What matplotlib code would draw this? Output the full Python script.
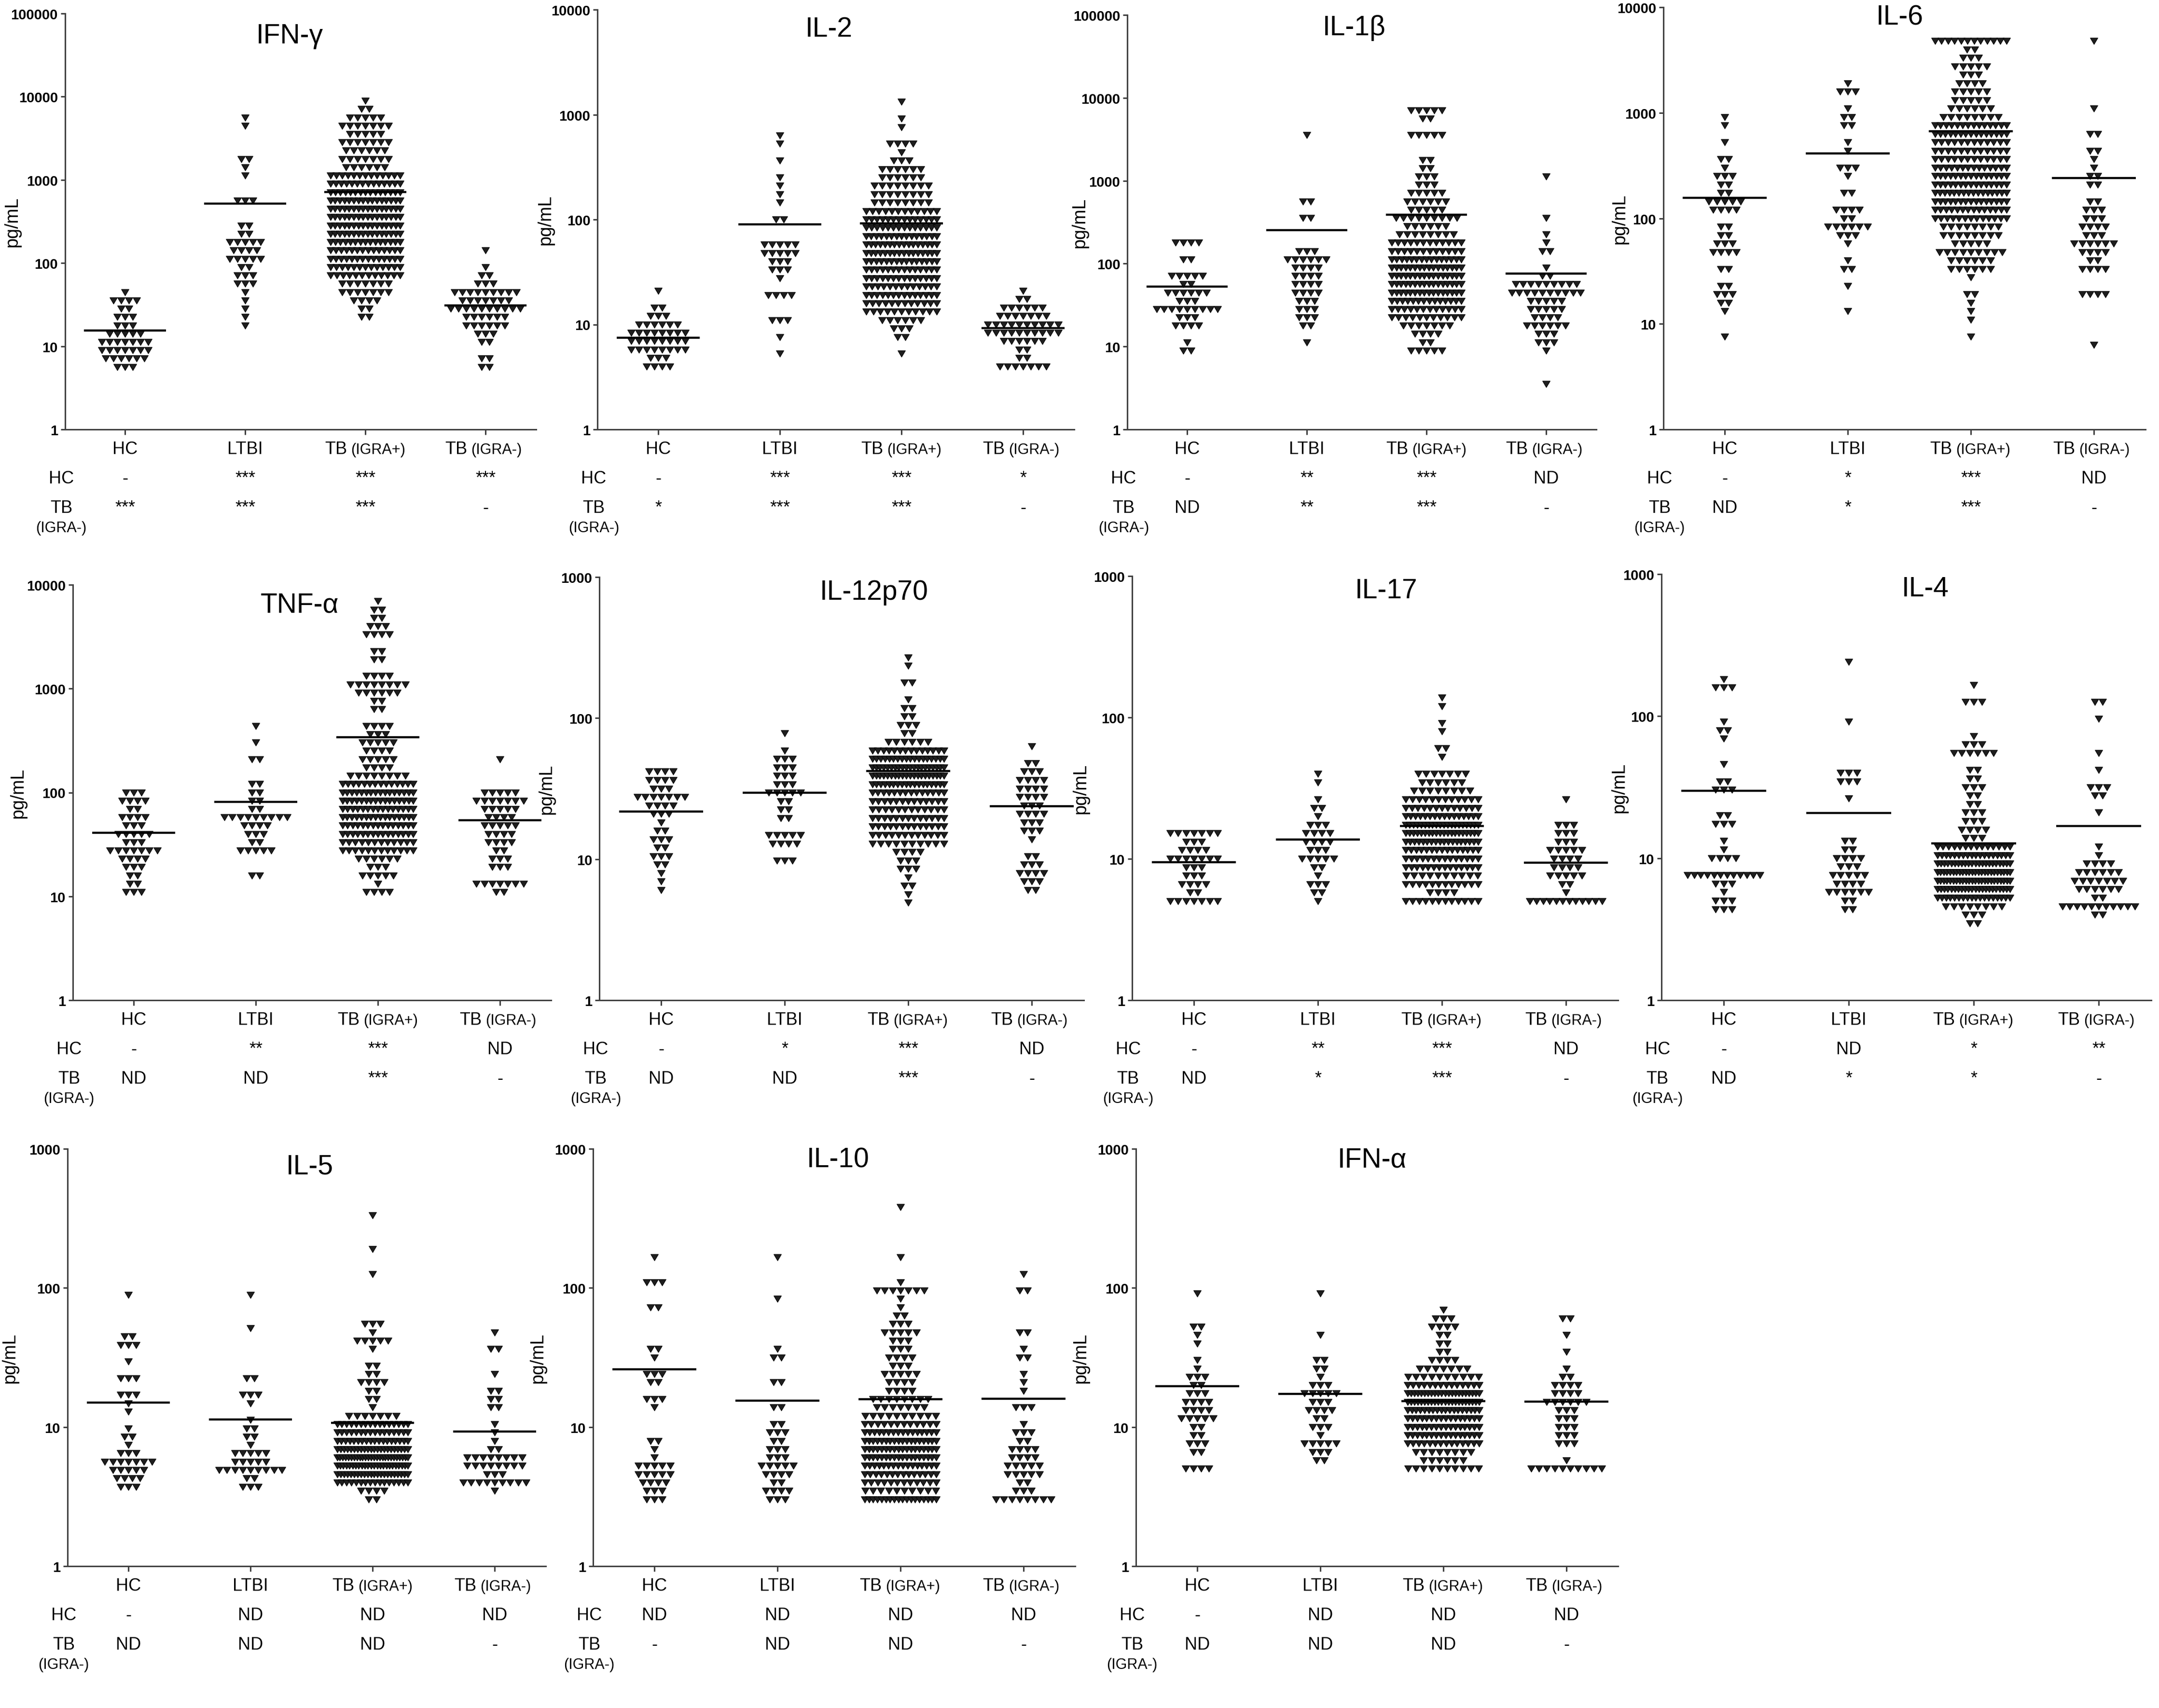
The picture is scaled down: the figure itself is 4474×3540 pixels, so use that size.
import numpy as np
import matplotlib
matplotlib.use("Agg")
import matplotlib.pyplot as plt
from matplotlib.path import Path

plt.rcParams['font.family'] = ['Liberation Sans', 'DejaVu Sans']

# groups on every panel
group_main = ["HC", "LTBI", "TB", "TB"]
group_sub = ["", "", "(IGRA+)", "(IGRA-)"]

# Values are read off the picture as rows of a column scatter:
# start = log10 of the lowest row of each group, step = log10 distance
# between rows, counts = number of subjects in each row (bottom -> top).
# line = value of the horizontal bar, vs_hc / vs_tbneg = comparison rows.

ifng_top, ifng_step = 100000, 0.1
ifng_start = [0.75, 1.25, 1.35, 0.75]
ifng_counts = [
    [3, 6, 7, 7, 5, 3, 3, 2, 4, 1],
    [1, 1, 1, 1, 1, 3, 3, 2, 5, 4, 5, 2, 2, 0, 0, 3, 0, 0, 1, 1, 2, 0, 0, 0, 1, 1],
    [2, 2, 4, 7, 7, 12, 13, 14, 14, 15, 16, 16, 16, 16, 16, 15, 14, 13, 6, 7, 6, 7, 5, 7, 5, 2, 1],
    [2, 2, 0, 2, 3, 6, 6, 10, 7, 9, 3, 2, 1, 0, 1],
]
ifng_line = [15.5, 520, 710, 31]
ifng_vs_hc = ["-", "***", "***", "***"]
ifng_vs_tbneg = ["***", "***", "***", "-"]

il2_top, il2_step = 10000, 0.08
il2_start = [0.60, 0.72, 0.72, 0.60]
il2_counts = [
    [4, 3, 8, 8, 8, 6, 3, 2, 0, 1],
    [1, 0, 1, 0, 3, 0, 0, 4, 0, 1, 3, 3, 5, 5, 0, 0, 2, 0, 1, 1, 1, 1, 0, 1, 0, 1, 1],
    [1, 0, 2, 3, 6, 11, 12, 14, 13, 14, 14, 15, 16, 16, 15, 14, 14, 12, 8, 8, 8, 6, 6, 3, 1, 4, 0, 1, 1, 0, 1],
    [7, 2, 2, 6, 10, 10, 7, 6, 2, 1],
]
il2_line = [7.5, 90, 92, 9.2]
il2_vs_hc = ["-", "***", "***", "*"]
il2_vs_tbneg = ["*", "***", "***", "-"]

il1b_top, il1b_step = 100000, 0.1
il1b_start = [0.95, 1.05, 0.95, 0.55]
il1b_counts = [
    [2, 1, 0, 4, 3, 9, 3, 6, 2, 5, 0, 2, 0, 4],
    [1, 0, 2, 3, 3, 3, 4, 4, 4, 4, 6, 3, 0, 0, 0, 2, 0, 2, 0, 0, 0, 0, 0, 0, 0, 1],
    [5, 2, 4, 7, 11, 12, 14, 16, 16, 16, 16, 15, 12, 12, 8, 6, 9, 5, 6, 5, 3, 3, 2, 2, 0, 0, 5, 0, 2, 5],
    [1, 0, 0, 0, 1, 3, 3, 6, 4, 5, 5, 10, 9, 2, 1, 0, 2, 1, 1, 0, 1, 0, 0, 0, 0, 1],
]
il1b_line = [53, 255, 390, 76]
il1b_vs_hc = ["-", "**", "***", "ND"]
il1b_vs_tbneg = ["ND", "**", "***", "-"]

il6_top, il6_step = 10000, 0.08
il6_start = [0.88, 1.12, 0.88, 0.80]
il6_counts = [
    [1, 0, 0, 1, 2, 3, 2, 0, 2, 0, 4, 3, 2, 2, 0, 4, 5, 2, 2, 3, 1, 2, 0, 1, 0, 1, 1],
    [1, 0, 0, 1, 0, 2, 1, 0, 1, 3, 6, 2, 4, 0, 2, 0, 1, 3, 0, 1, 1, 0, 2, 2, 1, 0, 3, 1],
    [1, 0, 1, 1, 1, 2, 0, 1, 6, 6, 9, 5, 8, 8, 13, 14, 15, 16, 15, 15, 14, 12, 12, 12, 15, 14, 8, 6, 5, 5, 4, 3, 5, 3, 2, 12],
    [1, 0, 0, 0, 0, 0, 4, 0, 0, 4, 2, 4, 6, 3, 4, 3, 3, 2, 0, 2, 2, 1, 1, 2, 0, 2, 0, 0, 1, 0, 0, 0, 0, 0, 0, 0, 1],
]
il6_line = [157, 410, 670, 242]
il6_vs_hc = ["-", "*", "***", "ND"]
il6_vs_tbneg = ["ND", "*", "***", "-"]

tnfa_top, tnfa_step = 10000, 0.08
tnfa_start = [1.04, 1.20, 1.04, 1.04]
tnfa_counts = [
    [3, 2, 2, 3, 4, 7, 3, 5, 3, 4, 2, 4, 3],
    [2, 0, 0, 5, 2, 3, 4, 9, 2, 2, 2, 2, 0, 0, 2, 0, 1, 0, 1],
    [4, 1, 5, 3, 6, 12, 12, 15, 15, 16, 15, 16, 16, 14, 8, 4, 5, 4, 5, 3, 4, 0, 2, 2, 6, 8, 4, 0, 2, 2, 0, 4, 3, 2, 2, 1],
    [2, 7, 0, 3, 3, 2, 4, 4, 5, 4, 5, 7, 5, 0, 0, 0, 1],
]
tnfa_line = [41, 81, 340, 54]
tnfa_vs_hc = ["-", "**", "***", "ND"]
tnfa_vs_tbneg = ["ND", "ND", "***", "-"]

il12_top, il12_step = 1000, 0.06
il12_start = [0.78, 0.99, 0.69, 0.78]
il12_counts = [
    [1, 1, 1, 2, 3, 2, 3, 2, 1, 3, 4, 7, 3, 4, 4],
    [3, 0, 4, 5, 0, 2, 2, 2, 5, 3, 3, 3, 3, 1, 0, 1],
    [1, 1, 2, 1, 3, 3, 4, 10, 12, 13, 13, 12, 13, 14, 18, 20, 20, 18, 14, 6, 2, 3, 2, 2, 1, 0, 2, 0, 1, 1],
    [2, 3, 4, 3, 2, 0, 1, 3, 3, 4, 3, 4, 4, 4, 3, 2, 0, 1],
]
il12_line = [21.7, 29.5, 42, 23.8]
il12_vs_hc = ["-", "*", "***", "ND"]
il12_vs_tbneg = ["ND", "ND", "***", "-"]

il17_top, il17_step = 1000, 0.06
il17_start = [0.70, 0.70, 0.70, 0.70]
il17_counts = [
    [7, 2, 4, 3, 3, 7, 4, 3, 7],
    [1, 2, 3, 1, 2, 5, 3, 4, 4, 3, 1, 2, 1, 0, 1, 1],
    [12, 4, 12, 10, 14, 14, 15, 18, 20, 20, 16, 13, 12, 8, 6, 7, 0, 1, 2, 0, 1, 1, 0, 1, 1],
    [12, 1, 2, 5, 4, 4, 5, 3, 3, 3, 0, 0, 1],
]
il17_line = [9.5, 13.7, 17, 9.4]
il17_vs_hc = ["-", "**", "***", "ND"]
il17_vs_tbneg = ["ND", "*", "***", "-"]

il4_top, il4_step = 1000, 0.06
il4_start = [0.64, 0.64, 0.54, 0.60]
il4_counts = [
    [3, 3, 1, 3, 12, 0, 4, 1, 1, 0, 3, 2, 0, 0, 3, 2, 0, 1, 0, 0, 1, 2, 1, 0, 0, 0, 3, 1],
    [2, 2, 6, 4, 5, 3, 4, 2, 2, 0, 0, 0, 0, 1, 0, 3, 3, 0, 0, 0, 0, 0, 1, 0, 0, 0, 0, 0, 0, 1],
    [2, 3, 8, 18, 22, 24, 24, 22, 18, 14, 3, 4, 3, 3, 2, 2, 3, 2, 2, 0, 6, 3, 1, 0, 0, 0, 3, 0, 1],
    [2, 11, 2, 6, 7, 6, 4, 1, 1, 0, 0, 0, 1, 0, 2, 3, 0, 1, 0, 1, 0, 0, 0, 1, 0, 2],
]
il4_line = [29.9, 20.8, 12.7, 16.9]
il4_vs_hc = ["-", "ND", "*", "**"]
il4_vs_tbneg = ["ND", "*", "*", "-"]

il5_top, il5_step = 1000, 0.06
il5_start = [0.57, 0.57, 0.48, 0.54]
il5_counts = [
    [3, 4, 5, 7, 3, 1, 2, 1, 0, 1, 1, 3, 0, 3, 0, 1, 0, 3, 2, 0, 0, 0, 0, 1],
    [3, 2, 9, 5, 5, 1, 2, 2, 1, 0, 1, 3, 0, 2, 0, 0, 0, 0, 0, 1, 0, 0, 0, 1],
    [2, 4, 16, 22, 24, 26, 22, 18, 16, 16, 7, 1, 2, 2, 4, 2, 2, 0, 1, 5, 1, 3, 0, 0, 0, 0, 0, 1, 0, 0, 1, 0, 0, 0, 1],
    [1, 9, 3, 8, 8, 2, 1, 1, 1, 0, 2, 2, 2, 0, 1, 0, 0, 2, 0, 1],
]
il5_line = [15, 11.3, 10.7, 9.3]
il5_vs_hc = ["-", "ND", "ND", "ND"]
il5_vs_tbneg = ["ND", "ND", "ND", "-"]

il10_top, il10_step = 1000, 0.06
il10_start = [0.48, 0.48, 0.48, 0.48]
il10_counts = [
    [3, 3, 4, 5, 5, 1, 1, 2, 0, 0, 0, 1, 3, 0, 2, 3, 0, 1, 2, 0, 0, 0, 0, 2, 0, 0, 3, 0, 0, 1],
    [3, 4, 2, 4, 5, 3, 3, 2, 3, 2, 0, 2, 0, 0, 2, 0, 0, 2, 1, 0, 0, 0, 0, 0, 1, 0, 0, 0, 0, 1],
    [18, 10, 12, 14, 16, 18, 18, 18, 16, 12, 10, 7, 8, 4, 4, 5, 3, 4, 3, 3, 5, 3, 2, 1, 1, 7, 1, 0, 0, 1, 0, 0, 0, 0, 0, 1],
    [8, 3, 2, 5, 5, 4, 4, 2, 3, 1, 0, 3, 0, 1, 1, 1, 0, 2, 1, 0, 2, 0, 0, 0, 0, 2, 0, 1],
]
il10_line = [26, 15.5, 15.8, 16]
il10_vs_hc = ["ND", "ND", "ND", "ND"]
il10_vs_tbneg = ["-", "ND", "ND", "-"]

ifna_top, ifna_step = 1000, 0.06
ifna_start = [0.70, 0.76, 0.70, 0.70]
ifna_counts = [
    [4, 0, 2, 3, 2, 2, 5, 4, 4, 3, 2, 3, 1, 1, 0, 1, 1, 2, 0, 0, 0, 1],
    [2, 3, 5, 1, 3, 2, 4, 3, 5, 3, 1, 2, 2, 0, 0, 1, 0, 0, 0, 0, 1],
    [10, 6, 8, 14, 16, 16, 16, 18, 22, 22, 14, 10, 7, 4, 2, 2, 2, 4, 3, 1],
    [10, 1, 0, 3, 3, 3, 3, 3, 6, 4, 4, 2, 1, 0, 1, 0, 1, 0, 2],
]
ifna_line = [19.6, 17.3, 15.4, 15.2]
ifna_vs_hc = ["-", "ND", "ND", "ND"]
ifna_vs_tbneg = ["ND", "ND", "ND", "-"]

panels = [
    ("IFN-γ", ifng_top, ifng_step, ifng_start, ifng_counts, ifng_line, ifng_vs_hc, ifng_vs_tbneg),
    ("IL-2", il2_top, il2_step, il2_start, il2_counts, il2_line, il2_vs_hc, il2_vs_tbneg),
    ("IL-1β", il1b_top, il1b_step, il1b_start, il1b_counts, il1b_line, il1b_vs_hc, il1b_vs_tbneg),
    ("IL-6", il6_top, il6_step, il6_start, il6_counts, il6_line, il6_vs_hc, il6_vs_tbneg),
    ("TNF-α", tnfa_top, tnfa_step, tnfa_start, tnfa_counts, tnfa_line, tnfa_vs_hc, tnfa_vs_tbneg),
    ("IL-12p70", il12_top, il12_step, il12_start, il12_counts, il12_line, il12_vs_hc, il12_vs_tbneg),
    ("IL-17", il17_top, il17_step, il17_start, il17_counts, il17_line, il17_vs_hc, il17_vs_tbneg),
    ("IL-4", il4_top, il4_step, il4_start, il4_counts, il4_line, il4_vs_hc, il4_vs_tbneg),
    ("IL-5", il5_top, il5_step, il5_start, il5_counts, il5_line, il5_vs_hc, il5_vs_tbneg),
    ("IL-10", il10_top, il10_step, il10_start, il10_counts, il10_line, il10_vs_hc, il10_vs_tbneg),
    ("IFN-α", ifna_top, ifna_step, ifna_start, ifna_counts, ifna_line, ifna_vs_hc, ifna_vs_tbneg),
]

# layout in pixels of the 4474x3541 picture
W, H = 4474, 3541
cat0_px = [259, 1364, 2460, 3574, 277, 1370, 2474, 3572, 266, 1356, 2481]
spacing_px = [249, 252, 248, 255, 253, 256, 257, 259, 253, 255, 255]
top_px = [29, 21, 32, 16, 1213, 1197, 1195, 1191, 2382, 2382, 2382]
bottom_px = [891] * 4 + [2074] * 4 + [3247] * 3
title_pos = [(0.477, 0.947), (0.486, 0.954), (0.484, 0.970), (0.490, 0.977),
             (0.474, 0.952), (0.567, 0.965), (0.523, 0.966), (0.539, 0.966),
             (0.506, 0.958), (0.508, 0.974), (0.490, 0.974)]
ylabel_off_px = [-91, -89, -80, -72, -95, -91, -88, -69, -101, -96, -96]

PX = 72 / 200  # pixels -> points
DX = 0.064     # horizontal spacing of neighbouring points (category units)
MAXW = 0.58    # widest row
tri = Path([(-1, 0.85), (1, 0.85), (0, -0.85), (-1, 0.85)],
           [Path.MOVETO, Path.LINETO, Path.LINETO, Path.CLOSEPOLY])
dark = '#404040'


def swarm(center, start, step, counts):
    xs, ys = [], []
    for i, n in enumerate(counts):
        if n == 0:
            continue
        y = 10 ** (start + i * step)
        dx = DX if n == 1 else min(DX, MAXW / (n - 1))
        for k in range(n):
            xs.append(center + (k - (n - 1) / 2) * dx)
            ys.append(y)
    return xs, ys


fig = plt.figure(figsize=(W / 200, H / 200), dpi=200)

for p, (name, ytop, step, starts, counts, line, vs_hc, vs_tbneg) in enumerate(panels):
    sp = spacing_px[p]
    left = cat0_px[p] - 0.5 * sp
    width = 3.92 * sp
    top, bot = top_px[p], bottom_px[p]
    ax = fig.add_axes([left / W, 1 - bot / H, width / W, (bot - top) / H])

    for g in range(4):
        xs, ys = swarm(g, starts[g], step, counts[g])
        ax.scatter(xs, ys, marker=tri, s=5.6 ** 2, facecolor='#1e1e1e',
                   edgecolor='#000000', linewidths=0.4, zorder=3)
        ax.plot([g - 0.34, g + 0.34], [line[g], line[g]], color='black',
                lw=1.6, zorder=4, solid_capstyle='butt')

    ax.set_yscale('log')
    ax.set_ylim(1, ytop)
    ax.set_xlim(-0.5, 3.42)
    decades = [10 ** k for k in range(int(round(np.log10(ytop))) + 1)]
    ax.set_yticks(decades, labels=[str(d) for d in decades], fontweight='bold')
    ax.yaxis.set_minor_locator(matplotlib.ticker.NullLocator())
    ax.set_xticks([0, 1, 2, 3], labels=[])
    ax.tick_params(axis='y', length=9 * PX, width=1.1, color=dark, labelsize=10.5, pad=2)
    ax.tick_params(axis='x', length=11 * PX, width=1.1, color=dark)
    for s in ['top', 'right']:
        ax.spines[s].set_visible(False)
    for s in ['left', 'bottom']:
        ax.spines[s].set_linewidth(1.1)
        ax.spines[s].set_color(dark)

    ax.set_ylabel("pg/mL", fontsize=13.5)
    ax.yaxis.set_label_coords(ylabel_off_px[p] / width, 0.5)
    ax.text(title_pos[p][0], title_pos[p][1], name, transform=ax.transAxes,
            ha='center', va='center', fontsize=20.5)

    def below(x, dy_px, txt, size, ha='center'):
        ax.annotate(txt, xy=(x, 0), xycoords=('data', 'axes fraction'),
                    xytext=(0, -dy_px * PX), textcoords='offset points',
                    ha=ha, va='baseline', fontsize=size, annotation_clip=False)

    # category labels
    for g in range(4):
        if group_sub[g]:
            below(g - 0.15, 50, group_main[g], 13, ha='right')
            below(g - 0.12, 50, group_sub[g], 11, ha='left')
        else:
            below(g, 50, group_main[g], 13)
    # comparison rows
    below(-0.53, 111, "HC", 13)
    below(-0.53, 172, "TB", 13)
    below(-0.53, 212, "(IGRA-)", 11)
    for g in range(4):
        below(g, 111, vs_hc[g], 13)
        below(g, 172, vs_tbneg[g], 13)

fig.savefig("out.png", dpi=200)
